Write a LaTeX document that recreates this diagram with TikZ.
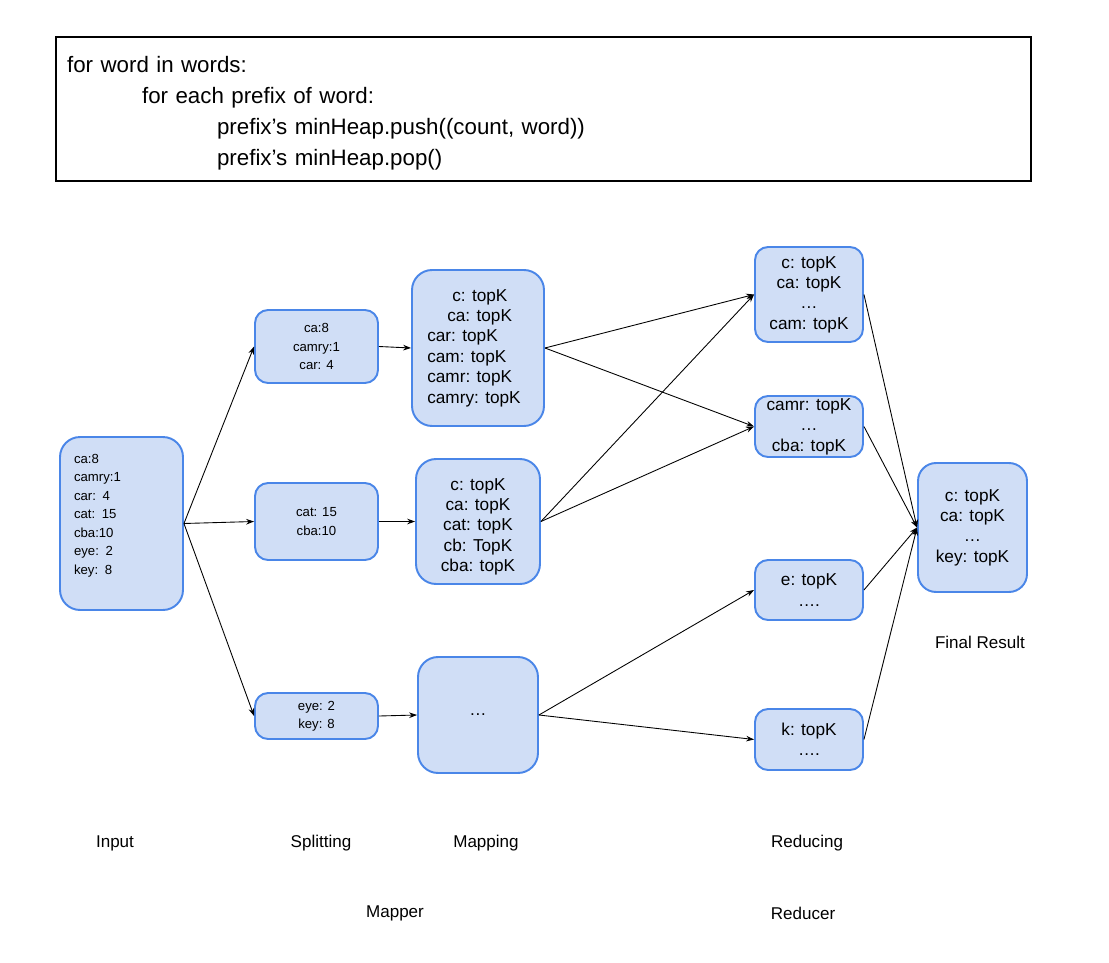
\documentclass[tikz,border=0pt]{standalone}
\usepackage{fontspec}
\setmainfont{Liberation Sans}
\usetikzlibrary{arrows.meta}

\definecolor{boxfill}{RGB}{208,222,246}
\definecolor{boxline}{RGB}{74,134,232}

\tikzset{
  stagebox/.style={draw=boxline, fill=boxfill, line width=1.1pt, rounded corners=0.4cm, inner sep=0pt, align=center},
  smallbox/.style={stagebox, rounded corners=0.26cm},
  bigtext/.style={font=\fontsize{9.8}{11.6}\selectfont},
  smalltext/.style={font=\fontsize{7.5}{10.5}\selectfont},
  flow/.style={-{Stealth[length=4.5pt,width=3.2pt]}, line width=0.5pt},
  caption/.style={font=\fontsize{9.7}{11}\selectfont}
}

\begin{document}
\begin{tikzpicture}[x=0.02cm, y=-0.02cm]
\useasboundingbox (0,0) rectangle (1109,963);

% Pseudo code box.
\node[draw, line width=1.1pt, minimum width=19.5cm, minimum height=2.88cm,
      text width=19.06cm, inner xsep=0.22cm, align=left,
      font=\fontsize{12.7}{17.6}\selectfont] (code) at (543.5,109)
  {\rule{0pt}{0.5cm}for word in words:\\
   \hspace*{1.5cm}for each prefix of word:\\
   \hspace*{3cm}prefix’s minHeap.push((count, word))\\
   \hspace*{3cm}prefix’s minHeap.pop()};

% Input and splitting.
\node[stagebox, smalltext, align=left, text width=1.9cm, minimum width=2.46cm, minimum height=3.46cm] (input) at (121.5,523.5)
  {ca:8\\camry:1\\car: 4\\cat: 15\\cba:10\\eye: 2\\key: 8\\~};
\node[smallbox, smalltext, minimum width=2.46cm, minimum height=1.46cm] (split1) at (316.5,346.5)
  {ca:8\\camry:1\\car: 4};
\node[smallbox, smalltext, minimum width=2.46cm, minimum height=1.54cm] (split2) at (316.5,521.5)
  {cat: 15\\cba:10};
\node[smallbox, smalltext, minimum width=2.46cm, minimum height=0.92cm] (split3) at (316.5,716)
  {eye: 2\\key: 8};

% Mapping.
\node[stagebox, bigtext, align=left, minimum width=2.64cm, minimum height=3.12cm] (map1) at (478,348)
  {\hspace*{0.5cm}c: topK\\\hspace*{0.4cm}ca: topK\\car: topK\\cam: topK\\camr: topK\\camry: topK\hspace*{0.16cm}};
\node[stagebox, bigtext, minimum width=2.48cm, minimum height=2.5cm] (map2) at (478,521.5)
  {\rule{0pt}{0.45cm}c: topK\\ca: topK\\cat: topK\\cb: TopK\\cba: topK};
\node[stagebox, bigtext, minimum width=2.4cm, minimum height=2.32cm] (map3) at (478,715) {…};

% Reducing.
\node[smallbox, bigtext, minimum width=2.16cm, minimum height=1.9cm] (red1) at (809,294.5)
  {c: topK\\ca: topK\\…\\cam: topK};
\node[smallbox, bigtext, minimum width=2.16cm, minimum height=1.22cm] (red2) at (809,426.5)
  {camr: topK\\…\\cba: topK};
\node[smallbox, bigtext, minimum width=2.16cm, minimum height=1.2cm] (red3) at (809,590)
  {e: topK\\….};
\node[smallbox, bigtext, minimum width=2.16cm, minimum height=1.22cm] (red4) at (809,739.5)
  {k: topK\\….};
\node[stagebox, bigtext, rounded corners=0.36cm, minimum width=2.18cm, minimum height=2.58cm] (final) at (972.5,527.5)
  {c: topK\\ca: topK\\…\\key: topK};

% Connectors.
\draw[flow] (input.east) -- (split1.west);
\draw[flow] (input.east) -- (split2.west);
\draw[flow] (input.east) -- (split3.west);

\draw[flow] (split1.east) -- (map1.west);
\draw[flow] (split2.east) -- (map2.west);
\draw[flow] (split3.east) -- (map3.west);

\draw[flow] (map1.east) -- (red1.west);
\draw[flow] (map1.east) -- (red2.west);
\draw[flow] (map2.east) -- (red1.west);
\draw[flow] (map2.east) -- (red2.west);
\draw[flow] (map3.east) -- (red3.west);
\draw[flow] (map3.east) -- (red4.west);

\draw[flow] (red1.east) -- (final.west);
\draw[flow] (red2.east) -- (final.west);
\draw[flow] (red3.east) -- (final.west);
\draw[flow] (red4.east) -- (final.west);

% Captions.
\node[caption] (lblinput) at (115,843) {Input};
\node[caption] (lblsplit) at (321,843) {Splitting};
\node[caption] (lblmap) at (486,843) {Mapping};
\node[caption] (lblreduce) at (807,843) {Reducing};
\node[caption] (lblmapper) at (395,913) {Mapper};
\node[caption] (lblreducer) at (803,913) {Reducer};
\node[caption] (lblfinal) at (980,642) {Final Result};
\end{tikzpicture}
\end{document}
